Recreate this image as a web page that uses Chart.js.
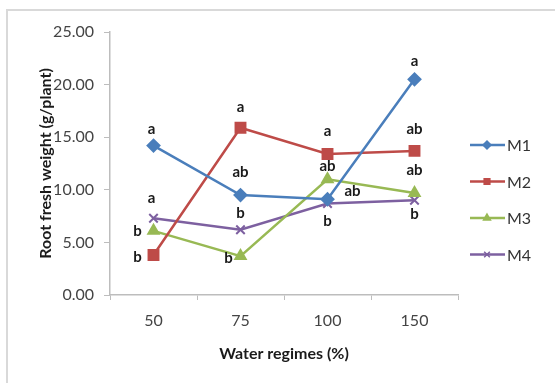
<!DOCTYPE html>
<html lang="en">
<head>
    <meta charset="UTF-8">
    <title>Root fresh weight</title>
    <script src="https://cdn.jsdelivr.net/npm/chart.js@4.4.1/dist/chart.umd.min.js"></script>
    <style>
      body { margin: 0; background: #fff; }
      #wrap { position: relative; width: 555px; height: 383px; overflow: hidden; }
      #frame {
        position: absolute; left: 6px; top: 9px; width: 600px; height: 420px;
        border: 2px solid #d9d9d9; box-sizing: border-box;
      }
      #chart { position: absolute; left: 0; top: 0; }
    </style>
</head>
<body>
    <div id="wrap">
        <div id="frame"></div>
        <canvas id="chart" width="555" height="383"></canvas>
    </div>

    <script>
        // water regimes (%)
        const regimes = ['50', '75', '100', '150'];

        // root fresh weight (g/plant)
        const m1 = [14.2, 9.5, 9.1, 20.5];
        const m2 = [3.8, 15.9, 13.4, 13.7];
        const m3 = [6.1, 3.7, 11.0, 9.7];
        const m4 = [7.3, 6.2, 8.7, 9.0];

        // significance letters
        const m1Letters = ['a', 'ab', 'ab', 'a'];
        const m2Letters = ['b', 'a', 'a', 'ab'];
        const m3Letters = ['b', 'b', 'ab', 'ab'];
        const m4Letters = ['a', 'b', 'b', 'b'];

        const yTicks = [0, 5, 10, 15, 20, 25];

        // where each letter sits relative to its point (px)
        const letterOffsets = [
            [[-2, -16], [0, -23], [25, -8], [0, -18]],
            [[-16, 2], [0, -21], [0, -23], [0, -22]],
            [[-16, 0], [-12, 2], [0, -13], [0, -23]],
            [[-2, -20], [0, -17], [0, 18], [0, 14]]
        ];

        const series = [
            { label: 'M1', data: m1, letters: m1Letters, color: '#4a7ebb', style: 'rectRot', r: 6 },
            { label: 'M2', data: m2, letters: m2Letters, color: '#be4b48', style: 'rect', r: 7 },
            { label: 'M3', data: m3, letters: m3Letters, color: '#98b954', style: 'triangle', r: 6 },
            { label: 'M4', data: m4, letters: m4Letters, color: '#7d60a0', style: 'crossRot', r: 6 }
        ];

        // letters above/beside points
        const letterPlugin = {
            id: 'letters',
            afterDatasetsDraw(chart) {
                const ctx = chart.ctx;
                ctx.save();
                ctx.font = 'bold 15px Lato';
                ctx.fillStyle = '#1a1a1a';
                ctx.textAlign = 'center';
                ctx.textBaseline = 'middle';
                series.forEach((s, i) => {
                    chart.getDatasetMeta(i).data.forEach((pt, j) => {
                        const off = letterOffsets[i][j];
                        ctx.fillText(s.letters[j], pt.x + off[0], pt.y + off[1]);
                    });
                });
                ctx.restore();
            }
        };

        // Excel style legend: line with marker
        const legendPlugin = {
            id: 'sideLegend',
            afterDraw(chart) {
                const ctx = chart.ctx;
                const x0 = chart.chartArea.right + 12;
                ctx.save();
                series.forEach((s, i) => {
                    const y = 145 + i * 36.5;
                    ctx.strokeStyle = s.color;
                    ctx.lineWidth = 2.5;
                    ctx.beginPath();
                    ctx.moveTo(x0, y);
                    ctx.lineTo(x0 + 35, y);
                    ctx.stroke();
                    ctx.fillStyle = s.color;
                    ctx.lineWidth = 1.5;
                    Chart.helpers.drawPoint(ctx, { pointStyle: s.style, radius: 4, borderWidth: 1.5 }, x0 + 17, y);
                    ctx.fillStyle = '#333';
                    ctx.font = '16px Lato';
                    ctx.textBaseline = 'middle';
                    ctx.fillText(s.label, x0 + 37, y + 1);
                });
                ctx.restore();
            }
        };

        new Chart(document.getElementById('chart'), {
            type: 'line',
            data: {
                labels: regimes,
                datasets: series.map(s => ({
                    label: s.label,
                    data: s.data,
                    borderColor: s.color,
                    backgroundColor: s.color,
                    borderWidth: 2.5,
                    pointStyle: s.style,
                    pointRadius: s.r,
                    pointBorderWidth: 2,
                    tension: 0
                }))
            },
            options: {
                responsive: false,
                animation: false,
                layout: { padding: { left: 0, top: 32, right: 97, bottom: 0 } },
                plugins: {
                    legend: { display: false },
                    tooltip: { enabled: false }
                },
                scales: {
                    x: {
                        offset: true,
                        grid: { drawOnChartArea: false, offset: true, tickLength: 5, color: '#bdbdbd' },
                        border: { color: '#bdbdbd', width: 1.5 },
                        ticks: { color: '#444', font: { family: 'Lato', size: 16 }, padding: 11 },
                        title: {
                            display: true, text: 'Water regimes (%)', color: '#1a1a1a',
                            font: { family: 'Lato', size: 16, weight: 'bold' },
                            padding: { top: 0, bottom: 20 }
                        },
                        afterFit(scale) { scale.height = 88; }
                    },
                    y: {
                        min: 0,
                        max: 25,
                        afterBuildTicks(scale) { scale.ticks = yTicks.map(v => ({ value: v })); },
                        grid: { drawOnChartArea: false, tickLength: 6, color: '#bdbdbd' },
                        border: { color: '#bdbdbd', width: 1.5 },
                        ticks: {
                            color: '#444', font: { family: 'Lato', size: 16 }, padding: 10,
                            callback: v => v.toFixed(2)
                        },
                        title: {
                            display: true, text: 'Root fresh weight (g/plant)', color: '#1a1a1a',
                            font: { family: 'Lato', size: 16, weight: 'bold' },
                            padding: { top: 36, bottom: 0 }
                        },
                        afterFit(scale) { scale.width = 110; }
                    }
                }
            },
            plugins: [letterPlugin, legendPlugin]
        });
    </script>
</body>
</html>
